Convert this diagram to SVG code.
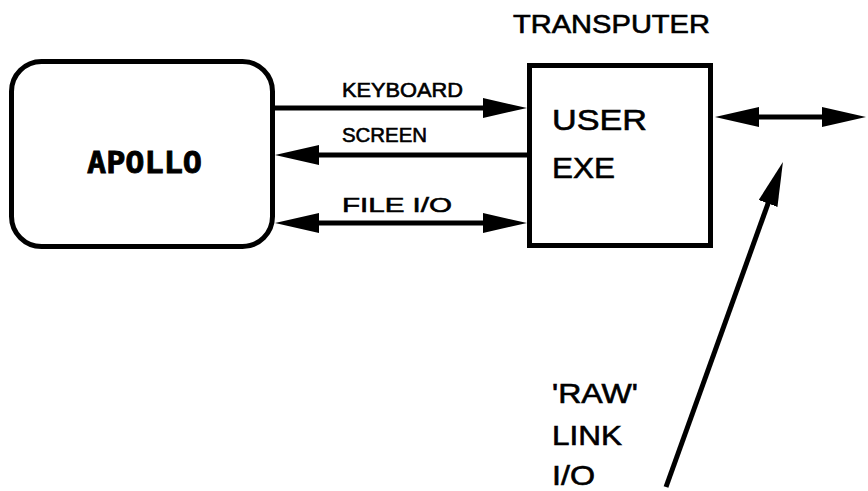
<svg xmlns="http://www.w3.org/2000/svg" width="868" height="491" viewBox="0 0 868 491">
<style>
.box{fill:#fff;stroke:#000;stroke-width:5}
.ln{stroke:#000;stroke-width:5;fill:none}
.t{font-family:"Liberation Sans",Arial,sans-serif;fill:#000;stroke:#000;stroke-width:0.6}
.ap{font-family:"DejaVu Sans Mono",monospace;font-weight:bold;fill:#000;stroke:#000;stroke-width:0.8}
</style>
<defs>
<marker id="ah" viewBox="0 0 44 20" refX="12" refY="10" markerWidth="44" markerHeight="20" markerUnits="userSpaceOnUse" orient="auto-start-reverse">
<path d="M0,0 L44,10 L0,20 z" fill="#000"/>
</marker>
</defs>
<rect width="868" height="491" fill="#fff"/>
<g id="apollo">
<rect class="box" x="11.5" y="61.5" width="261" height="185" rx="30"/>
<text class="ap" x="87" y="173" font-size="30" textLength="115" lengthAdjust="spacingAndGlyphs">APOLLO</text>
</g>
<g id="transputer">
<text class="t" x="513" y="33" font-size="25" textLength="197" lengthAdjust="spacingAndGlyphs">TRANSPUTER</text>
<rect class="box" x="529.5" y="65.5" width="181" height="180"/>
<text class="t" x="552" y="130" font-size="30" textLength="95" lengthAdjust="spacingAndGlyphs">USER</text>
<text class="t" x="552" y="178" font-size="30" textLength="63" lengthAdjust="spacingAndGlyphs">EXE</text>
</g>
<g id="connectors">
<line class="ln" x1="275" y1="108" x2="495" y2="108" marker-end="url(#ah)"/>
<line class="ln" x1="527" y1="155" x2="307" y2="155" marker-end="url(#ah)"/>
<line class="ln" x1="307" y1="223" x2="495" y2="223" marker-start="url(#ah)" marker-end="url(#ah)"/>
<line class="ln" x1="747" y1="117" x2="834" y2="117" marker-start="url(#ah)" marker-end="url(#ah)"/>
<line class="ln" x1="666" y1="487" x2="772.1" y2="192.2" marker-end="url(#ah)"/>
</g>
<g id="labels">
<text class="t" x="342" y="97" font-size="20" textLength="121" lengthAdjust="spacingAndGlyphs">KEYBOARD</text>
<text class="t" x="342" y="142" font-size="20" textLength="85" lengthAdjust="spacingAndGlyphs">SCREEN</text>
<text class="t" x="342" y="212" font-size="21" textLength="110" lengthAdjust="spacingAndGlyphs">FILE I/O</text>
<text class="t" x="552" y="403" font-size="28" textLength="86" lengthAdjust="spacingAndGlyphs">'RAW'</text>
<text class="t" x="552" y="445" font-size="28" textLength="70" lengthAdjust="spacingAndGlyphs">LINK</text>
<text class="t" x="552" y="485" font-size="28" textLength="43" lengthAdjust="spacingAndGlyphs">I/O</text>
</g>
</svg>
